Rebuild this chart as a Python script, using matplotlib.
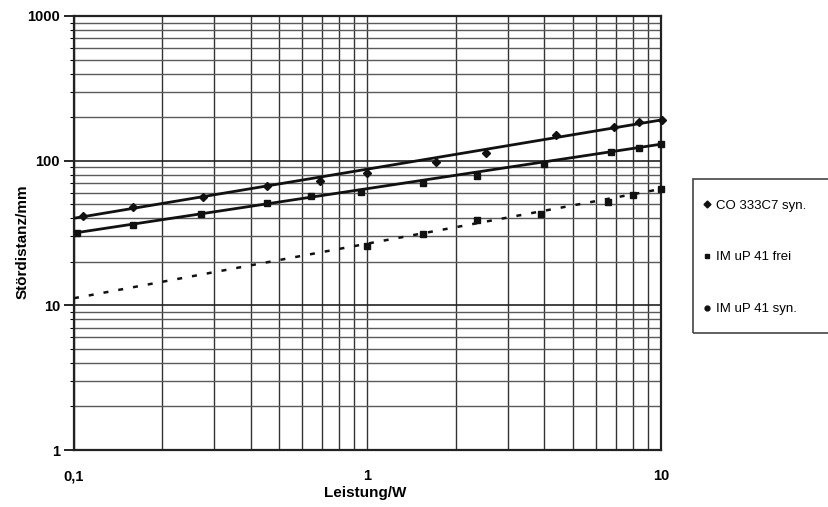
import numpy as np
import matplotlib
matplotlib.use("Agg")
import matplotlib.pyplot as plt
from matplotlib.lines import Line2D
from matplotlib.patches import Rectangle
from matplotlib.ticker import FixedLocator, LogLocator, NullFormatter, FuncFormatter

plt.rcParams.update({"font.family": ["Liberation Sans", "DejaVu Sans"]})

# CO 333C7 syn. (upper curve)
co_x = [0.107, 0.159, 0.275, 0.456, 0.69, 1.0, 1.71, 2.53, 4.38, 6.9, 8.4, 10.1]
co_y = [41.4, 47.8, 56.0, 66.7, 72.3, 82.1, 97.8, 113, 150, 171, 185, 191]
# IM uP 41 frei (middle curve)
fr_x = [0.102, 0.159, 0.27, 0.455, 0.64, 0.95, 1.55, 2.37, 3.98, 6.74, 8.41, 10.0]
fr_y = [31.6, 35.9, 42.8, 50.9, 56.9, 60.7, 70.0, 78.3, 94.8, 115, 122, 130]
# IM uP 41 syn. (dashed curve)
sy_x = [1.0, 1.55, 2.37, 3.9, 6.6, 8.0, 10.0]
sy_y = [25.7, 31.1, 38.9, 42.8, 51.7, 57.9, 63.6]

# power trend lines (straight in log-log), endpoints
trend_x = [0.1, 10]
co_trend = [40, 191]
fr_trend = [31.6, 130]
sy_trend = [11.2, 63.7]

labels = ["CO 333C7 syn.", "IM uP 41 frei", "IM uP 41 syn."]

fig = plt.figure(figsize=(8.29, 5.07), dpi=100)
ax = fig.add_axes([74 / 829, 57 / 507, 587 / 829, 434 / 507])
ax.set_xscale("log")
ax.set_yscale("log")
ax.set_xlim(0.1, 10)
ax.set_ylim(1, 1000)

ax.xaxis.set_major_locator(FixedLocator([0.1, 1, 10]))
ax.xaxis.set_minor_locator(LogLocator(base=10, subs=np.arange(2, 10)))
ax.yaxis.set_major_locator(FixedLocator([1, 10, 100, 1000]))
ax.yaxis.set_minor_locator(LogLocator(base=10, subs=np.arange(2, 10)))
fmt = FuncFormatter(lambda v, p: f"{v:g}".replace(".", ","))
ax.xaxis.set_major_formatter(fmt)
ax.yaxis.set_major_formatter(fmt)
ax.xaxis.set_minor_formatter(NullFormatter())
ax.yaxis.set_minor_formatter(NullFormatter())

ax.grid(which="both", axis="x", color="#333333", lw=1.0)
ax.grid(which="major", axis="y", color="#222222", lw=1.2)
ax.grid(which="minor", axis="y", color="#5a5a5a", lw=1.0)
ax.set_axisbelow(True)

for s in ax.spines.values():
    s.set_color("#222222")
    s.set_linewidth(1.6)

ax.tick_params(axis="x", which="both", length=0, pad=14, labelsize=10.5)
ax.tick_params(axis="y", which="major", length=7, width=1.2, pad=3, labelsize=10.5)
ax.tick_params(axis="y", which="minor", length=3, width=0.8)
for lbl in ax.get_xticklabels() + ax.get_yticklabels():
    lbl.set_fontweight("bold")

ax.plot(trend_x, co_trend, color="#111111", lw=2.0, zorder=3)
ax.plot(trend_x, fr_trend, color="#111111", lw=2.0, zorder=3)
ax.plot(trend_x, sy_trend, color="#111111", lw=1.8, ls=(0, (2, 4)), zorder=3)
ax.plot(co_x, co_y, "D", color="#111111", ms=4.5, ls="none", zorder=4, clip_on=False)
ax.plot(fr_x, fr_y, "s", color="#111111", ms=4.5, ls="none", zorder=4, clip_on=False)
ax.plot(sy_x, sy_y, "s", color="#111111", ms=4.0, ls="none", zorder=4, clip_on=False)

ax.set_xlabel("Leistung/W", fontsize=11, fontweight="bold")
ax.set_ylabel("Stördistanz/mm", fontsize=11, fontweight="bold")
ax.xaxis.set_label_coords(0.496, -0.083)
ax.yaxis.set_label_coords(-0.075, 0.48)

# legend box running off the right edge
fig.patches.append(Rectangle((693 / 829, (507 - 333) / 507), 0.3, 154 / 507,
                             transform=fig.transFigure, fill=False,
                             edgecolor="#444444", lw=1.2))
handles = [Line2D([], [], marker=m, color="#111111", ls="none", ms=3.5)
           for m in ["D", "s", "o"]]
fig.legend(handles, labels, loc="upper left", bbox_to_anchor=(698 / 829, (507 - 194) / 507),
           frameon=False, fontsize=9.5, labelspacing=3.0, handlelength=0.6,
           handletextpad=0.4, borderaxespad=0)

fig.savefig("out.png", dpi=100)
